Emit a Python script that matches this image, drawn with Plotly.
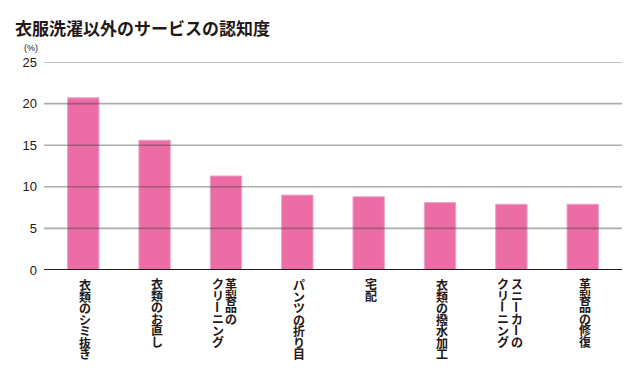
import plotly.graph_objects as go

title = "衣服洗濯以外のサービスの認知度"
categories = ["衣類のシミ抜き", "衣類のお直し", "革製品のクリーニング", "パンツの折り目",
              "宅配", "衣類の撥水加工", "スニーカーのクリーニング", "革製品の修復"]
label_lines = [["衣類のシミ抜き"], ["衣類のお直し"], ["革製品の", "クリーニング"], ["パンツの折り目"],
               ["宅配"], ["衣類の撥水加工"], ["スニーカーの", "クリーニング"], ["革製品の修復"]]
values = [20.7, 15.6, 11.3, 9.0, 8.8, 8.1, 7.9, 7.9]
y_ticks = [0, 5, 10, 15, 20, 25]
unit_label = "(%)"

DARK = "#231815"
PINK = "#EC6DA6"
FONT_JP = "Noto Sans CJK JP"
FONT_NUM = "Liberation Sans"

# the page body has an 8px default margin; compensate
OFF = 8
W, H = 640 - OFF, 376 - OFF

fig = go.Figure()
fig.add_trace(go.Bar(
    x=categories, y=values,
    marker=dict(color=PINK, line=dict(color="#E9A7C6", width=1)),
    hoverinfo="skip",
))

shapes = []
for t in y_ticks:
    if t == 0:
        continue
    shapes.append(dict(type="line", xref="paper", yref="y", x0=0, x1=1, y0=t, y1=t,
                       line=dict(color="rgba(60,60,60,0.42)", width=1.6), layer="above"))
shapes.append(dict(type="line", xref="paper", yref="y", x0=0, x1=1, y0=0, y1=0,
                   line=dict(color=DARK, width=2.2), layer="above"))

annotations = []
PITCH = 11.5
CH = 12           # glyph size
BASE = PITCH / 1.3  # plotly line spacing = 1.3 * base font size
TOP_GAP = 8
COL_GAP = 13.5


def runs(text):
    out, cur, start = [], "", 0
    for i, ch in enumerate(text):
        if ch == "ー":
            if cur:
                out.append((start, cur, False))
            out.append((i, ch, True))
            cur, start = "", i + 1
        else:
            if not cur:
                start = i
            cur += ch
    if cur:
        out.append((start, cur, False))
    return out


for cat, lines in zip(categories, label_lines):
    n = len(lines)
    base_shift = 2 - (n - 1) * 3.25
    for j, line in enumerate(lines):
        xs = base_shift + ((n - 1) / 2 - j) * COL_GAP
        for start, seg, rot in runs(line):
            m = len(seg)
            center = TOP_GAP + CH / 2 + (start + (m - 1) / 2) * PITCH
            if rot:
                txt = seg
                fnt = dict(family=FONT_JP, size=CH, color=DARK, weight="bold")
            else:
                txt = "<br>".join(f'<span style="font-size:{CH}px">{c}</span>' for c in seg)
                fnt = dict(family=FONT_JP, size=BASE, color=DARK, weight="bold")
            annotations.append(dict(
                x=cat, xref="x", y=0, yref="paper", yanchor="middle", xanchor="center",
                xshift=xs, yshift=-center, showarrow=False, text=txt,
                textangle=90 if rot else 0, borderpad=0, font=fnt,
            ))

annotations.append(dict(xref="x domain", x=-0.022, y=1, yref="paper", yshift=7,
                        xanchor="center", yanchor="bottom", showarrow=False,
                        text=unit_label, font=dict(family=FONT_NUM, size=9, color=DARK)))

fig.update_layout(
    width=W, height=H,
    margin=dict(l=44 - OFF, r=18, t=62 - OFF, b=106),
    paper_bgcolor="white", plot_bgcolor="white",
    showlegend=False,
    bargap=0.56,
    title=dict(text=f"<b>{title}</b>", x=(15 - OFF) / W, xanchor="left", xref="container",
               y=1 - (29 - OFF) / H, yanchor="middle", yref="container",
               font=dict(family=FONT_JP, size=17, color=DARK)),
    xaxis=dict(range=[-0.55, 7.55], showticklabels=False, showgrid=False, zeroline=False,
               showline=False, ticks=""),
    yaxis=dict(range=[0, 25], tickvals=y_ticks, showgrid=False, zeroline=False, showline=False,
               ticks="", ticklabelstandoff=6,
               tickfont=dict(family=FONT_NUM, size=13, color=DARK)),
    shapes=shapes,
    annotations=annotations,
)

fig.write_html("out.html")
